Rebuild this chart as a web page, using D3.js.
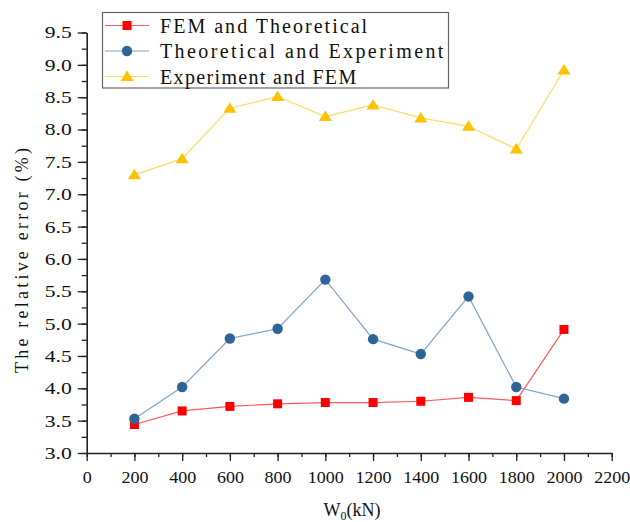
<!DOCTYPE html>
<html>
<head>
<meta charset="utf-8">
<script src="https://cdn.jsdelivr.net/npm/d3@7"></script>
<style>
  html, body { margin: 0; padding: 0; background: #fff; }
  svg { display: block; }
  text { font-family: "Liberation Serif", "DejaVu Serif", serif; fill: #111; }
</style>
</head>
<body>
<svg id="chart" width="630" height="522"></svg>
<script>
const loads = [200, 400, 600, 800, 1000, 1200, 1400, 1600, 1800, 2000];
const femTheoretical = [3.44, 3.65, 3.72, 3.76, 3.78, 3.78, 3.80, 3.86, 3.81, 4.91];
const theoreticalExperiment = [3.53, 4.02, 4.77, 4.92, 5.68, 4.76, 4.53, 5.42, 4.02, 3.84];
const experimentFem = [7.30, 7.55, 8.33, 8.51, 8.20, 8.38, 8.18, 8.05, 7.70, 8.92];
const seriesNames = ["FEM and Theoretical", "Theoretical and Experiment", "Experiment and FEM"];
const xTicks = [0, 200, 400, 600, 800, 1000, 1200, 1400, 1600, 1800, 2000, 2200];
const yTicks = [3.0, 3.5, 4.0, 4.5, 5.0, 5.5, 6.0, 6.5, 7.0, 7.5, 8.0, 8.5, 9.0, 9.5];

const svg = d3.select("#chart");
const x = d3.scaleLinear().domain([0, 2200]).range([86.7, 611.7]);
const y = d3.scaleLinear().domain([3, 9.5]).range([453, 32.5]);

const axisColor = "#222";

// minor ticks
const xMinor = d3.range(0, 2201, 100);
const yMinor = d3.range(3, 9.51, 0.25);
svg.append("g").attr("transform", `translate(0,${y(3)})`)
  .call(d3.axisBottom(x).tickValues(xMinor).tickSize(4).tickFormat(""))
  .call(g => { g.select(".domain").remove(); g.selectAll("line").attr("stroke", axisColor).attr("stroke-width", 1.3); });
svg.append("g").attr("transform", `translate(${x(0)},0)`)
  .call(d3.axisLeft(y).tickValues(yMinor).tickSize(5).tickFormat(""))
  .call(g => { g.select(".domain").remove(); g.selectAll("line").attr("stroke", axisColor).attr("stroke-width", 1.3); });

// major axes
const gx = svg.append("g").attr("transform", `translate(0,${y(3)})`)
  .call(d3.axisBottom(x).tickValues(xTicks).tickSize(8).tickSizeOuter(0).tickPadding(10).tickFormat(d3.format("d")));
gx.select(".domain").attr("stroke", axisColor).attr("stroke-width", 1.6);
gx.selectAll("line").attr("stroke", axisColor).attr("stroke-width", 1.3);
gx.selectAll("text").attr("font-size", 17).attr("font-family", "Liberation Serif")
  .attr("fill", "#111")
  .attr("textLength", function() { return this.textContent.length * 9; })
  .attr("lengthAdjust", "spacingAndGlyphs");

const gy = svg.append("g").attr("transform", `translate(${x(0)},0)`)
  .call(d3.axisLeft(y).tickValues(yTicks).tickSize(9).tickSizeOuter(0).tickPadding(6).tickFormat(d3.format(".1f")));
gy.select(".domain").attr("stroke", axisColor).attr("stroke-width", 1.6);
gy.selectAll("line").attr("stroke", axisColor).attr("stroke-width", 1.3);
gy.selectAll("text").attr("font-size", 17).attr("font-family", "Liberation Serif")
  .attr("fill", "#111")
  .attr("textLength", function() { return this.textContent.length * 9; })
  .attr("lengthAdjust", "spacingAndGlyphs");

// axis titles
svg.append("text")
  .attr("transform", `translate(28,${(148 + 373) / 2}) rotate(-90)`)
  .attr("text-anchor", "middle")
  .attr("font-size", 18)
  .attr("textLength", 225).attr("lengthAdjust", "spacing")
  .text("The relative error (%)");

const xt = svg.append("text")
  .attr("x", 352).attr("y", 516)
  .attr("text-anchor", "middle")
  .attr("font-size", 18);
xt.append("tspan").text("W");
xt.append("tspan").attr("font-size", 12).attr("dy", 4).text("0");
xt.append("tspan").attr("dy", -4).text("(kN)");

const series = [
  { name: seriesNames[0], values: femTheoretical, line: "#ff5a5a", fill: "#ff0000", shape: "square" },
  { name: seriesNames[1], values: theoreticalExperiment, line: "#7fa3cc", fill: "#2f6496", shape: "circle" },
  { name: seriesNames[2], values: experimentFem, line: "#ffd966", fill: "#ffc000", shape: "triangle" }
];

function drawMarker(g, shape, cx, cy, color) {
  if (shape === "square") {
    g.append("rect").attr("x", cx - 4.5).attr("y", cy - 4.5).attr("width", 9).attr("height", 9).attr("fill", color);
  } else if (shape === "circle") {
    g.append("circle").attr("cx", cx).attr("cy", cy).attr("r", 5.2).attr("fill", color);
  } else {
    g.append("path").attr("d", `M${cx},${cy - 6} L${cx + 6.5},${cy + 4.5} L${cx - 6.5},${cy + 4.5} Z`).attr("fill", color);
  }
}

series.forEach(s => {
  const g = svg.append("g");
  const line = d3.line().x((d, i) => x(loads[i])).y(d => y(d));
  g.append("path").datum(s.values).attr("d", line).attr("fill", "none").attr("stroke", s.line).attr("stroke-width", 1.2);
  s.values.forEach((v, i) => drawMarker(g, s.shape, x(loads[i]), y(v), s.fill));
});

// legend
const lg = svg.append("g");
lg.append("rect").attr("x", 102.5).attr("y", 12.5).attr("width", 346).attr("height", 75.5)
  .attr("fill", "#fff").attr("stroke", "#666").attr("stroke-width", 1.2);
const rowY = [25.5, 51, 76.5];
series.forEach((s, i) => {
  lg.append("line").attr("x1", 105).attr("x2", 149).attr("y1", rowY[i]).attr("y2", rowY[i])
    .attr("stroke", s.line).attr("stroke-width", 1.2);
  drawMarker(lg, s.shape, 127, rowY[i], s.fill);
  lg.append("text").attr("x", 160).attr("y", rowY[i]).attr("dy", "0.36em")
    .attr("font-size", 20)
    .attr("textLength", s.name.length * 10.9).attr("lengthAdjust", "spacing")
    .text(s.name);
});
</script>
</body>
</html>
